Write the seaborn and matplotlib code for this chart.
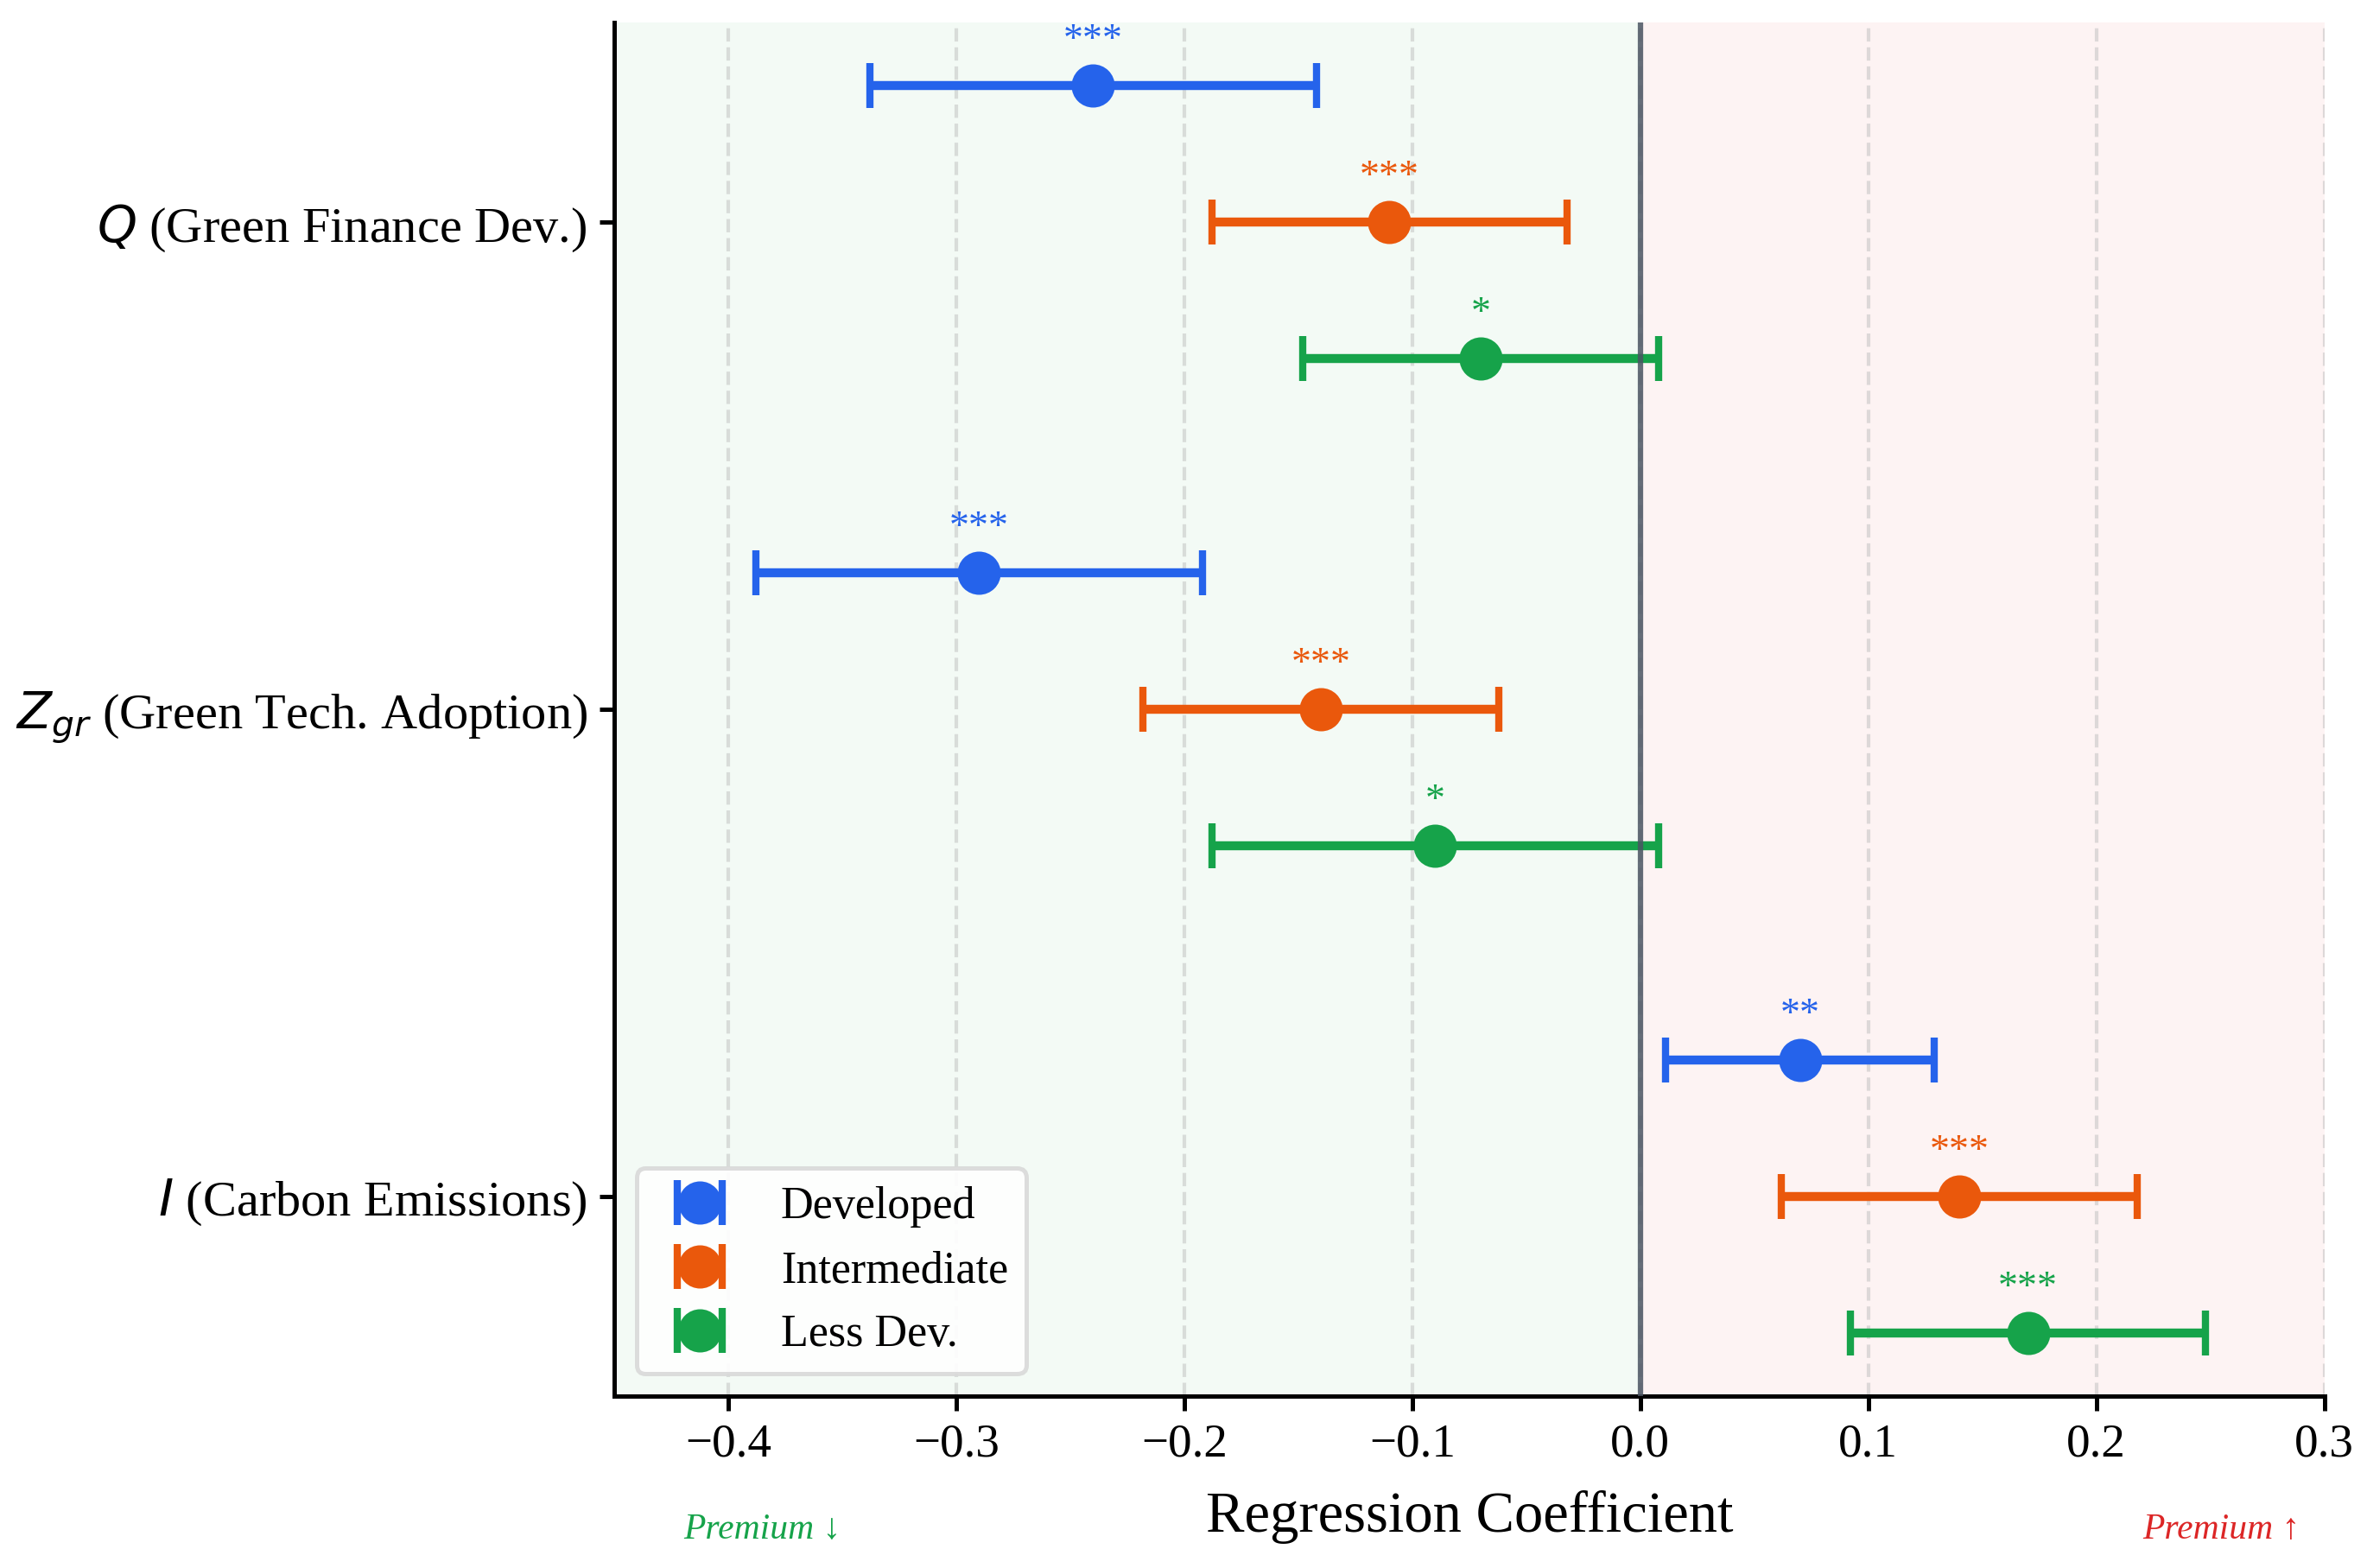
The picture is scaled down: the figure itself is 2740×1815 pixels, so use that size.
import numpy as np
import pandas as pd
import matplotlib
matplotlib.use("Agg")
import matplotlib.pyplot as plt
import seaborn as sns

# ---------------- data ----------------
variables = [r"$Q$ (Green Finance Dev.)",
             r"$Z_{gr}$ (Green Tech. Adoption)",
             r"$I$ (Carbon Emissions)"]
groups = ["Developed", "Intermediate", "Less Dev."]
colors = ["#2563eb", "#ea580c", "#16a34a"]

# coefficients per group (order: Q, Z_gr, I)
coef_dev = [-0.24, -0.29, 0.07]
coef_int = [-0.11, -0.14, 0.14]
coef_less = [-0.07, -0.09, 0.17]

# CI lower / upper bounds per group
low_dev = [-0.338, -0.388, 0.011]
up_dev = [-0.142, -0.192, 0.129]
low_int = [-0.188, -0.218, 0.062]
up_int = [-0.032, -0.062, 0.218]
low_less = [-0.148, -0.188, 0.092]
up_less = [0.008, 0.008, 0.248]

# significance stars
sig_dev = ["***", "***", "**"]
sig_int = ["***", "***", "***"]
sig_less = ["*", "*", "***"]

xticks = [-0.4, -0.3, -0.2, -0.1, 0.0, 0.1, 0.2, 0.3]

coefs = [coef_dev, coef_int, coef_less]
lows = [low_dev, low_int, low_less]
ups = [up_dev, up_int, up_less]
sigs = [sig_dev, sig_int, sig_less]

rows = []
for g, name in enumerate(groups):
    for v in range(len(variables)):
        rows.append(dict(group=name, var=v, coef=coefs[g][v],
                         low=lows[g][v], up=ups[g][v], sig=sigs[g][v]))
df = pd.DataFrame(rows)

# ---------------- style ----------------
sns.set_theme(style="ticks")
plt.rcParams["font.family"] = ["Liberation Serif", "DejaVu Serif"]
plt.rcParams["mathtext.fontset"] = "dejavusans"
plt.rcParams["axes.unicode_minus"] = True
plt.rcParams["text.color"] = "black"
plt.rcParams["axes.labelcolor"] = "black"
plt.rcParams["xtick.color"] = "black"
plt.rcParams["ytick.color"] = "black"
plt.rcParams["axes.edgecolor"] = "black"

fig = plt.figure(figsize=(2740 / 300, 1815 / 300), dpi=300)
ax = fig.add_axes([0.2595, 0.1096, 0.7225, 0.876])

xmin, xmax = -0.45, 0.3
ax.axvspan(xmin, 0, color="#16a34a", alpha=0.05, lw=0, zorder=0)
ax.axvspan(0, xmax, color="#dc2626", alpha=0.05, lw=0, zorder=0)

offsets = [-0.28, 0.0, 0.28]
for g, name in enumerate(groups):
    sub = df[df["group"] == name]
    y = sub["var"].to_numpy() + offsets[g]
    x = sub["coef"].to_numpy()
    err = np.vstack([x - sub["low"].to_numpy(), sub["up"].to_numpy() - x])
    ax.errorbar(x, y, xerr=err, fmt="o", color=colors[g], ms=11,
                elinewidth=2.5, capsize=6.3, capthick=2, label=name, zorder=3)
    for xi, yi, s in zip(x, y, sub["sig"]):
        ax.text(xi, yi - 0.091, s, color=colors[g], fontsize=11,
                ha="center", va="center", zorder=4)

ax.axvline(0, color="#4b5563", lw=1.5, alpha=0.85, zorder=5)

ax.set_xlim(xmin, xmax)
ax.set_ylim(2.41, -0.41)
ax.set_xticks(xticks)
ax.set_yticks(range(len(variables)))
ax.set_yticklabels(variables, fontsize=14)
ax.tick_params(axis="x", labelsize=13.2)
ax.tick_params(axis="both", width=1.2, length=4, color="black", labelcolor="black")
ax.xaxis.grid(True, linestyle="--", color="#b8b8b8", alpha=0.45, lw=1, zorder=1)
ax.set_axisbelow(True)
ax.set_xlabel("Regression Coefficient", fontsize=16, color="black", labelpad=6.5)

for side in ["left", "bottom"]:
    ax.spines[side].set_linewidth(1.2)
    ax.spines[side].set_color("black")
sns.despine(ax=ax)

trans = ax.get_xaxis_transform()
ax.text(-0.385, -0.097, "Premium ↓", transform=trans, color="#16a34a",
        fontsize=10, style="italic", ha="center", va="center")
ax.text(0.255, -0.097, "Premium ↑", transform=trans, color="#dc2626",
        fontsize=10, style="italic", ha="center", va="center")

leg = ax.legend(loc="lower left", fontsize=12.5, frameon=True, fancybox=True,
                framealpha=0.9, edgecolor="#d9d9d9", labelspacing=0.5)
leg.get_frame().set_linewidth(1.2)
for t in leg.get_texts():
    t.set_color("black")

fig.savefig("out.png", dpi=300)
